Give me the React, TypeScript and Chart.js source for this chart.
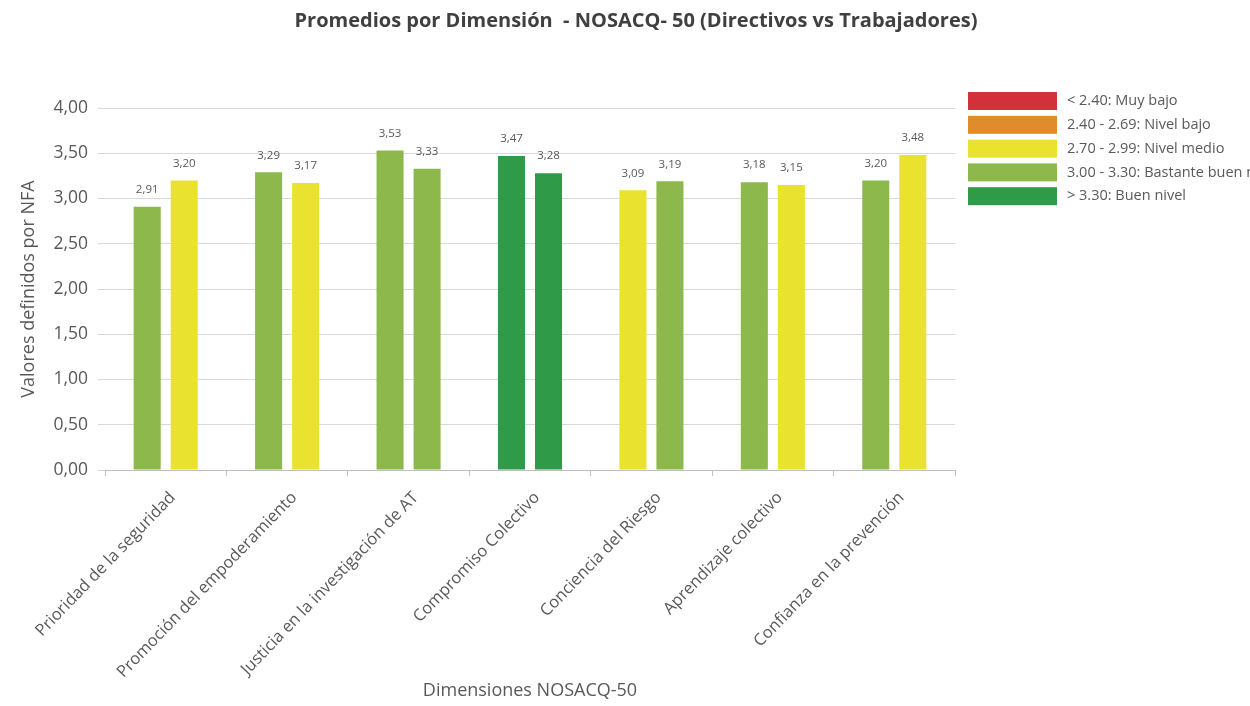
import React, { useEffect, useRef } from "react";
import { Chart, registerables } from "chart.js";

Chart.register(...registerables);

const TITLE = "Promedios por Dimensión  - NOSACQ- 50 (Directivos vs Trabajadores)";
const X_TITLE = "Dimensiones NOSACQ-50";
const Y_TITLE = "Valores definidos por NFA";

const categories = [
  "Prioridad de la seguridad",
  "Promoción del empoderamiento",
  "Justicia en la investigación de AT",
  "Compromiso Colectivo",
  "Conciencia del Riesgo",
  "Aprendizaje colectivo",
  "Confianza en la prevención",
];

const directivos = [2.91, 3.29, 3.53, 3.47, 3.09, 3.18, 3.2];
const trabajadores = [3.2, 3.17, 3.33, 3.28, 3.19, 3.15, 3.48];

const RED = "#d2313a";
const ORANGE = "#e08b2c";
const YELLOW = "#e9e22f";
const LIGHT_GREEN = "#8cb84c";
const DARK_GREEN = "#2f9b49";

const directivosColors = [LIGHT_GREEN, LIGHT_GREEN, LIGHT_GREEN, DARK_GREEN, YELLOW, LIGHT_GREEN, LIGHT_GREEN];
const trabajadoresColors = [YELLOW, YELLOW, LIGHT_GREEN, DARK_GREEN, LIGHT_GREEN, YELLOW, YELLOW];

const legendLabels = [
  "< 2.40: Muy bajo",
  "2.40 - 2.69: Nivel bajo",
  "2.70 - 2.99: Nivel medio",
  "3.00 - 3.30: Bastante buen nivel",
  "> 3.30: Buen nivel",
];
const legendColors = [RED, ORANGE, YELLOW, LIGHT_GREEN, DARK_GREEN];

const FONT = "'Open Sans', sans-serif";
const TEXT = "#595959";

const fmt = (v: number) => v.toFixed(2).replace(".", ",");

const decorPlugin = {
  id: "decor",
  afterDatasetsDraw(chart: any) {
    const ctx = chart.ctx;
    ctx.save();
    // data labels
    ctx.font = `11.5px ${FONT}`;
    ctx.fillStyle = TEXT;
    ctx.textAlign = "center";
    ctx.textBaseline = "middle";
    chart.data.datasets.forEach((ds: any, i: number) => {
      const meta = chart.getDatasetMeta(i);
      meta.data.forEach((bar: any, j: number) => {
        ctx.fillText(fmt(ds.data[j]), bar.x, bar.y - 17);
      });
    });
    // title
    ctx.font = `bold 20px ${FONT}`;
    ctx.fillStyle = "#404040";
    ctx.fillText(TITLE, 636, 21);
    // legend
    const area = chart.chartArea;
    const bx = area.right + 13;
    ctx.textAlign = "left";
    ctx.font = `14.5px ${FONT}`;
    legendLabels.forEach((lab, k) => {
      const y = 92 + k * 23.8;
      ctx.fillStyle = legendColors[k];
      ctx.fillRect(bx, y, 89, 18);
      ctx.fillStyle = TEXT;
      ctx.fillText(lab, bx + 99, y + 9);
    });
    ctx.restore();
  },
};

export default function App() {
  const ref = useRef<HTMLCanvasElement | null>(null);
  useEffect(() => {
    document.body.style.margin = "0";
    const chart = new Chart(ref.current as HTMLCanvasElement, {
      type: "bar",
      data: {
        labels: categories,
        datasets: [
          {
            label: "Directivos",
            data: directivos,
            backgroundColor: directivosColors,
            categoryPercentage: 0.61,
            barPercentage: 0.73,
          },
          {
            label: "Trabajadores",
            data: trabajadores,
            backgroundColor: trabajadoresColors,
            categoryPercentage: 0.61,
            barPercentage: 0.73,
          },
        ],
      },
      options: {
        animation: false,
        responsive: false,
        layout: { padding: { top: 108, right: 295, bottom: 4, left: 0 } },
        plugins: {
          legend: { display: false },
          title: { display: false },
          tooltip: { enabled: false },
        },
        scales: {
          x: {
            grid: {
              drawOnChartArea: false,
              drawTicks: true,
              tickLength: 6,
              color: "#bfbfbf",
              offset: true,
            },
            border: { color: "#bfbfbf" },
            ticks: {
              color: TEXT,
              font: { family: FONT, size: 16.5 },
              minRotation: 46,
              maxRotation: 46,
              padding: 12,
              labelOffset: 7,
            },
            title: {
              display: true,
              text: X_TITLE,
              color: TEXT,
              font: { family: FONT, size: 18 },
              padding: { top: 0, bottom: 0 },
            },
            afterFit: (s: any) => {
              s.height = 232;
            },
          },
          y: {
            min: 0,
            max: 4,
            ticks: {
              stepSize: 0.5,
              color: TEXT,
              font: { family: FONT, size: 17.5 },
              padding: 10,
              callback: (v: any) => fmt(Number(v)),
            },
            grid: { color: "#d9d9d9", tickLength: 7 },
            border: { display: false },
            title: {
              display: true,
              text: Y_TITLE,
              color: TEXT,
              font: { family: FONT, size: 18 },
              padding: { top: 18, bottom: 4 },
            },
            afterFit: (s: any) => {
              s.width = 105;
            },
          },
        },
      },
      plugins: [decorPlugin],
    });
    return () => chart.destroy();
  }, []);
  return <canvas ref={ref} width={1250} height={706} style={{ display: "block" }} />;
}
